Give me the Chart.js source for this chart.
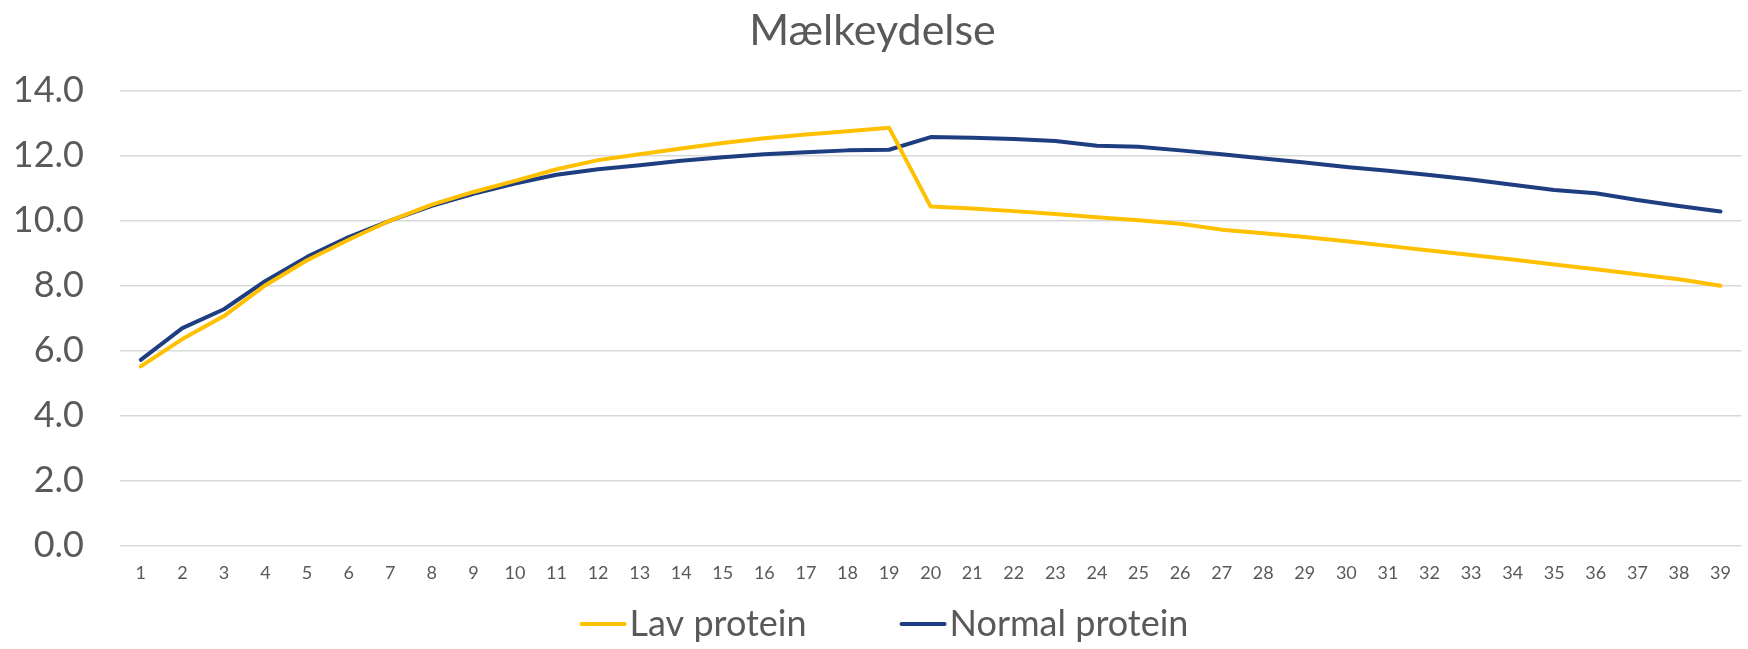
<!DOCTYPE html>
<html>
<head>
<meta charset="utf-8">
<title>Mælkeydelse</title>
<script src="https://cdn.jsdelivr.net/npm/chart.js@4.4.1/dist/chart.umd.min.js"></script>
<style>
    html, body { margin: 0; padding: 0; background: #fff; }
    #wrap { width: 1748px; height: 649px; position: relative; }
</style>
</head>
<body>
<div id="wrap"><canvas id="milk"></canvas></div>
<script>
// uger 1-39
var weeks = ['1','2','3','4','5','6','7','8','9','10','11','12','13','14','15','16','17','18','19','20',
    '21','22','23','24','25','26','27','28','29','30','31','32','33','34','35','36','37','38','39'];
var lavProtein = [5.51, 6.35, 7.06, 8.01, 8.78, 9.41, 10.0, 10.49, 10.88, 11.22,
    11.58, 11.86, 12.04, 12.22, 12.39, 12.53, 12.65, 12.75, 12.86, 10.43,
    10.37, 10.29, 10.20, 10.10, 10.01, 9.90, 9.72, 9.61, 9.49, 9.36,
    9.22, 9.08, 8.94, 8.80, 8.65, 8.50, 8.35, 8.19, 7.99];
var normalProtein = [5.71, 6.69, 7.27, 8.14, 8.88, 9.49, 10.0, 10.45, 10.82, 11.14,
    11.41, 11.58, 11.70, 11.84, 11.95, 12.04, 12.10, 12.16, 12.18, 12.57,
    12.55, 12.51, 12.45, 12.30, 12.27, 12.16, 12.04, 11.91, 11.79, 11.65,
    11.53, 11.40, 11.26, 11.10, 10.94, 10.84, 10.63, 10.45, 10.28];
var seriesNames = ['Lav protein', 'Normal protein'];
var yTicks = [0, 2, 4, 6, 8, 10, 12, 14];

var textColor = '#595959';
var fontFamily = 'Lato, "Noto Sans", sans-serif';

// legend drawn under the chart (line + text like the original)
var bottomLegend = {
    id: 'bottomLegend',
    afterDraw: function(chart){
        var ctx = chart.ctx;
        var sets = chart.data.datasets;
        var lineW = 43, gap = 5, between = 95, y = 624;
        ctx.save();
        ctx.font = '36px ' + fontFamily;
        var total = 0;
        for (var i = 0; i < sets.length; i++) {
            total += lineW + gap + ctx.measureText(sets[i].label).width;
            if (i > 0) total += between;
        }
        var x = 885 - total / 2;
        ctx.textBaseline = 'middle';
        ctx.textAlign = 'left';
        for (var j = 0; j < sets.length; j++) {
            ctx.strokeStyle = sets[j].borderColor;
            ctx.lineWidth = 4;
            ctx.lineCap = 'round';
            ctx.beginPath();
            ctx.moveTo(x, y);
            ctx.lineTo(x + lineW, y);
            ctx.stroke();
            x += lineW + gap;
            ctx.fillStyle = textColor;
            ctx.fillText(sets[j].label, x, y);
            x += ctx.measureText(sets[j].label).width + between;
        }
        ctx.restore();
    }
};

var chart = new Chart(document.getElementById('milk'), {
    type: 'line',
    data: {
        labels: weeks,
        datasets: [{
            label: seriesNames[0],
            data: lavProtein,
            borderColor: '#FFC000',
            backgroundColor: '#FFC000',
            borderWidth: 4,
            pointRadius: 0,
            tension: 0,
            borderJoinStyle: 'round',
            borderCapStyle: 'round'
        }, {
            label: seriesNames[1],
            data: normalProtein,
            borderColor: '#1F3E82',
            backgroundColor: '#1F3E82',
            borderWidth: 4,
            pointRadius: 0,
            tension: 0,
            borderJoinStyle: 'round',
            borderCapStyle: 'round'
        }]
    },
    options: {
        responsive: true,
        maintainAspectRatio: false,
        animation: false,
        layout: { padding: { left: 0, right: 3, top: 0, bottom: 48 } },
        plugins: {
            legend: { display: false },
            tooltip: { enabled: false },
            title: {
                display: true,
                text: 'Mælkeydelse',
                color: textColor,
                font: { family: fontFamily, size: 43, weight: 'normal' },
                padding: { top: 5, bottom: 34 }
            }
        },
        scales: {
            x: {
                offset: true,
                grid: { display: false, drawTicks: false },
                border: { display: false },
                ticks: {
                    color: textColor,
                    font: { family: fontFamily, size: 18 },
                    padding: 17,
                    maxRotation: 0,
                    autoSkip: false
                }
            },
            y: {
                min: yTicks[0],
                max: yTicks[yTicks.length - 1],
                afterFit: function(scale){ scale.width = 120; },
                afterBuildTicks: function(scale){
                    scale.ticks = yTicks.map(function(v){ return { value: v }; });
                },
                grid: { color: '#d9d9d9', lineWidth: 1.5, drawTicks: false },
                border: { display: false },
                ticks: {
                    color: textColor,
                    font: { family: fontFamily, size: 36 },
                    padding: 36,
                    callback: function(v){ return Number(v).toFixed(1); }
                }
            }
        }
    },
    plugins: [bottomLegend]
});
</script>
</body>
</html>
